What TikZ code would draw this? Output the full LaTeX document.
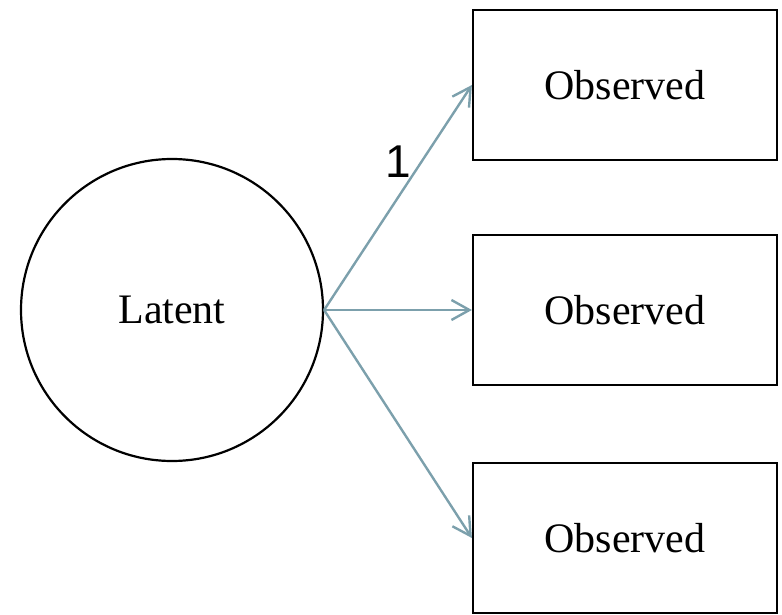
\documentclass[tikz,border=0pt]{standalone}
\usepackage{fontspec}
\setmainfont{Liberation Serif}
\newfontfamily\labelfont{Liberation Sans}
\usepackage{tikz}
\usetikzlibrary{arrows.meta}
\definecolor{pathblue}{RGB}{124,160,172}

\begin{document}
\begin{tikzpicture}[x=0.5pt,y=-0.5pt,
  latentvar/.style={draw,line width=1.1pt,circle,minimum size=151pt,inner sep=0pt,font=\fontsize{21}{25}\selectfont},
  obsvar/.style={draw,line width=1.1pt,rectangle,minimum width=152pt,minimum height=75pt,inner sep=0pt,font=\fontsize{21}{25}\selectfont},
  loading/.style={draw=pathblue,line width=1.2pt,-{Straight Barb[length=9pt,width=10pt,line width=1.2pt]}}]
\useasboundingbox (0,0) rectangle (782,615);
% latent factor
\node[latentvar] (lat) at (172,310) {Latent};
% observed indicators
\node[obsvar] (obs1) at (625,85) {Observed};
\node[obsvar] (obs2) at (625,310) {Observed};
\node[obsvar] (obs3) at (625,538) {Observed};
% factor loadings
\draw[loading] (lat.east) -- (obs1.west) node[midway,yshift=18pt,text=black,font=\labelfont\fontsize{23}{27}\selectfont] {1};
\draw[loading] (lat.east) -- (obs2.west);
\draw[loading] (lat.east) -- (obs3.west);
\end{tikzpicture}
\end{document}
